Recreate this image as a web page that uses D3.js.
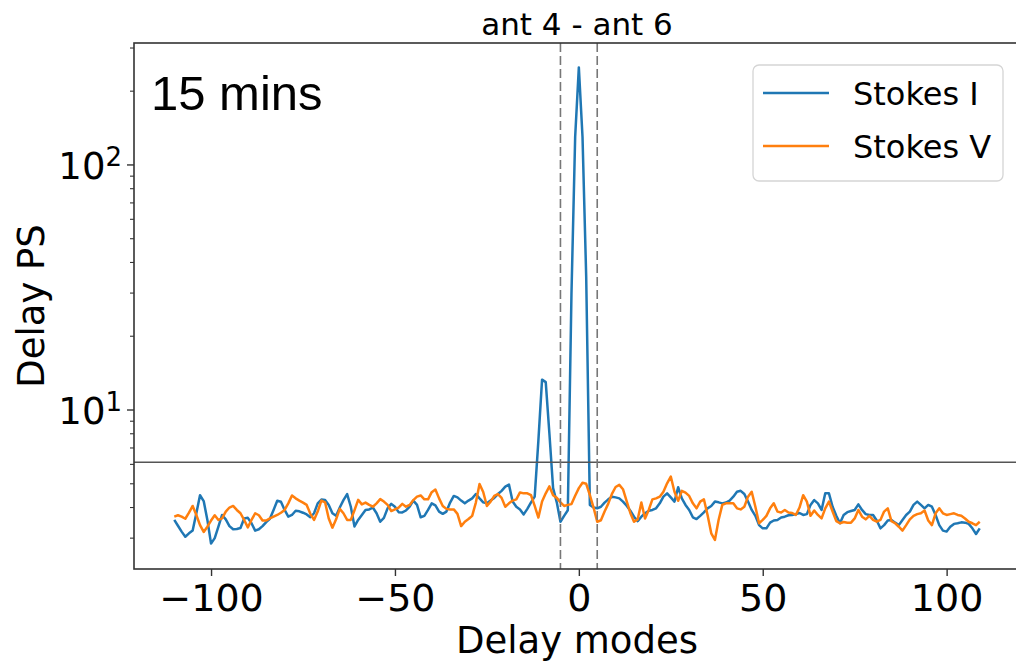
<!DOCTYPE html>
<html>
<head>
<meta charset="utf-8">
<script src="https://cdn.jsdelivr.net/npm/d3@7"></script>
<style>
	body { margin: 0; background: #fff; }
	text { font-family: "DejaVu Sans", sans-serif; fill: #000; }
</style>
</head>
<body>
<div id="chart"></div>
<script>
//Data: delay power spectrum for baseline ant 4 - ant 6
var delayModes = d3.range(-110, 110);

var stokesI = [
	3.56, 3.37, 3.19, 3.04, 3.14, 3.22, 3.79, 4.49, 4.25, 3.56,
	2.85, 3.00, 3.34, 3.73, 3.58, 3.36, 3.26, 3.27, 3.30, 3.61,
	3.63, 3.45, 3.22, 3.26, 3.36, 3.49, 3.60, 3.91, 4.26, 4.22,
	3.91, 3.67, 3.73, 3.88, 3.86, 3.81, 3.75, 3.65, 3.79, 4.16,
	4.31, 4.29, 4.10, 3.79, 3.70, 4.00, 4.29, 4.54, 4.03, 3.35,
	3.56, 3.73, 3.91, 3.93, 4.00, 3.79, 3.50, 3.63, 3.97, 4.14,
	4.03, 3.83, 3.82, 3.89, 4.03, 4.27, 4.10, 3.65, 3.70, 3.91,
	4.16, 4.08, 3.85, 3.77, 3.85, 4.19, 4.46, 4.40, 4.27, 4.16,
	4.27, 4.36, 4.54, 4.36, 4.20, 4.16, 4.27, 4.38, 4.54, 4.68,
	4.87, 4.96, 4.23, 4.03, 3.93, 3.75, 3.95, 4.20, 4.43, 7.5,
	13.3, 13.0, 8.0, 4.8, 4.2, 3.5, 3.7, 3.9, 30, 130,
	250, 130, 35, 4.1, 4.0, 3.97, 4.03, 4.19, 4.32, 4.43,
	4.40, 4.36, 4.23, 4.07, 3.88, 3.67, 3.52, 3.67, 3.79, 3.88,
	3.91, 3.97, 4.16, 4.43, 4.57, 4.40, 4.23, 4.84, 4.36, 4.10,
	3.91, 3.65, 3.59, 3.70, 3.82, 3.97, 4.06, 4.23, 4.20, 4.16,
	4.19, 4.27, 4.43, 4.64, 4.68, 4.54, 4.23, 3.91, 3.70, 3.39,
	3.29, 3.29, 3.47, 3.54, 3.56, 3.64, 3.67, 3.72, 3.73, 3.76,
	3.80, 3.73, 3.76, 4.10, 4.29, 4.16, 3.91, 4.57, 4.57, 4.03,
	3.70, 3.45, 3.73, 3.83, 3.87, 3.91, 4.12, 3.91, 3.76, 3.73,
	3.73, 3.54, 3.29, 3.39, 3.54, 3.56, 3.47, 3.39, 3.56, 3.73,
	3.85, 4.10, 4.23, 4.10, 3.97, 4.10, 4.03, 3.73, 3.39, 3.22,
	3.19, 3.34, 3.43, 3.45, 3.48, 3.47, 3.43, 3.29, 3.12, 3.29
];

var stokesV = [
	3.67, 3.72, 3.67, 3.60, 3.81, 4.06, 3.73, 3.39, 3.18, 3.34,
	3.54, 3.72, 3.56, 3.61, 3.85, 4.00, 4.06, 3.91, 3.79, 3.56,
	3.32, 3.56, 3.79, 3.72, 3.54, 3.54, 3.61, 3.67, 3.73, 3.81,
	3.91, 4.16, 4.48, 4.36, 4.27, 4.19, 4.10, 3.77, 3.56, 3.85,
	4.27, 4.20, 3.61, 3.31, 3.58, 3.95, 3.79, 3.56, 3.56, 3.90,
	4.30, 4.12, 4.19, 4.10, 4.03, 4.16, 4.33, 4.23, 4.10, 3.87,
	3.93, 4.00, 4.14, 4.03, 4.10, 4.29, 4.43, 4.48, 4.32, 4.32,
	4.62, 4.74, 4.36, 4.06, 3.95, 3.93, 3.93, 3.77, 3.36, 3.50,
	3.59, 3.70, 4.19, 4.99, 4.63, 4.06, 4.23, 4.46, 4.54, 4.38,
	4.03, 4.16, 4.27, 4.32, 4.61, 4.57, 4.57, 4.49, 4.06, 3.64,
	4.23, 4.57, 4.88, 4.49, 4.38, 4.20, 4.06, 4.10, 4.13, 4.47,
	4.80, 5.05, 5.00, 4.50, 4.00, 3.50, 3.55, 3.85, 4.15, 4.55,
	4.85, 4.95, 4.75, 4.25, 3.80, 3.50, 3.58, 4.19, 3.61, 3.91,
	4.32, 4.36, 4.43, 4.64, 5.02, 5.35, 4.64, 4.26, 4.68, 4.60,
	4.46, 4.16, 3.97, 4.23, 4.32, 3.73, 3.14, 2.95, 3.56, 4.10,
	4.16, 4.16, 4.16, 3.97, 3.93, 4.03, 4.43, 4.64, 4.03, 3.45,
	3.56, 3.70, 3.97, 4.16, 3.85, 3.82, 3.91, 3.82, 3.80, 3.73,
	4.00, 4.49, 4.23, 3.70, 3.89, 3.73, 3.61, 3.97, 4.23, 3.85,
	3.52, 3.45, 3.49, 3.47, 3.47, 3.61, 3.91, 3.67, 3.58, 3.70,
	3.56, 3.50, 3.56, 3.85, 3.97, 3.52, 3.45, 3.34, 3.22, 3.39,
	3.58, 3.70, 3.76, 3.79, 3.89, 3.54, 3.39, 3.79, 3.97, 3.79,
	3.73, 3.76, 3.79, 3.73, 3.70, 3.61, 3.50, 3.45, 3.39, 3.50
];

var seriesNames = ["Stokes I", "Stokes V"];
var seriesColors = ["#1f77b4", "#ff7f0e"];
var xTicks = [-100, -50, 0, 50, 100];
var yMajorTicks = [10, 100];
var yMinorTicks = [3, 4, 5, 6, 7, 8, 9, 20, 30, 40, 50, 60, 70, 80, 90, 200, 300];
var windowEdges = [-5, 5];
var threshold = 6.12;
var titleText = "ant 4 - ant 6";
var noteText = "15 mins";

//SVG setup
var margin = { top: 43, left: 134 };
var width = 886;
var height = 526;

var root = d3.select('#chart')
	.append('svg')
	.attr('width', 1016)
	.attr('height', 662);

var svg = root.append('g')
	.attr('transform', 'translate(' + margin.left + ',' + margin.top + ')');

//Scales (matplotlib style 5% margins)
var x = d3.scaleLinear()
	.domain([-120.95, 119.95])
	.range([0, width]);

var y = d3.scaleLog()
	.domain([2.245, 314.5])
	.range([height, 0]);

var series = [stokesI, stokesV].map(function(vals, i) {
	return {
		name: seriesNames[i],
		color: seriesColors[i],
		points: delayModes.map(function(d, j) { return { mode: d, value: vals[j] }; })
	};
});

//x axis
var xAxis = svg.append('g')
	.attr('transform', 'translate(0,' + height + ')')
	.call(d3.axisBottom(x)
		.tickValues(xTicks)
		.tickSize(7)
		.tickPadding(8)
		.tickFormat(function(d) { return d < 0 ? '\u2212' + Math.abs(d) : d; }));
xAxis.select('.domain').remove();
xAxis.selectAll('line').attr('stroke', '#333').attr('stroke-width', 1.4);
xAxis.selectAll('text')
	.attr('font-size', 38)
	.attr('fill', '#000');

//y axis minor ticks
svg.selectAll('.minor')
	.data(yMinorTicks)
	.enter()
	.append('line')
	.attr('class', 'minor')
	.attr('x1', -4)
	.attr('x2', 0)
	.attr('y1', function(d) { return y(d); })
	.attr('y2', function(d) { return y(d); })
	.attr('stroke', '#333')
	.attr('stroke-width', 1.1);

//y axis major ticks with 10^n labels
var major = svg.selectAll('.major')
	.data(yMajorTicks)
	.enter()
	.append('g')
	.attr('class', 'major')
	.attr('transform', function(d) { return 'translate(0,' + y(d) + ')'; });
major.append('line')
	.attr('x1', -7)
	.attr('x2', 0)
	.attr('stroke', '#333')
	.attr('stroke-width', 1.4);
var lbl = major.append('text')
	.attr('x', -12)
	.attr('y', 14)
	.attr('text-anchor', 'end')
	.attr('font-size', 37);
lbl.append('tspan').text('10');
lbl.append('tspan')
	.attr('font-size', 26)
	.attr('dy', -13)
	.text(function(d) { return Math.round(Math.log10(d)); });

//Series lines
var line = d3.line()
	.x(function(d) { return x(d.mode); })
	.y(function(d) { return y(d.value); });

svg.selectAll('.series')
	.data(series)
	.enter()
	.append('path')
	.attr('class', 'series')
	.attr('fill', 'none')
	.attr('stroke', function(d) { return d.color; })
	.attr('stroke-width', 2.5)
	.attr('stroke-linejoin', 'round')
	.attr('d', function(d) { return line(d.points); });

//Threshold and delay window
svg.append('line')
	.attr('x1', 0)
	.attr('x2', width)
	.attr('y1', y(threshold))
	.attr('y2', y(threshold))
	.attr('stroke', '#555')
	.attr('stroke-width', 1.6);

svg.selectAll('.edge')
	.data(windowEdges)
	.enter()
	.append('line')
	.attr('class', 'edge')
	.attr('x1', function(d) { return x(d); })
	.attr('x2', function(d) { return x(d); })
	.attr('y1', 0)
	.attr('y2', height)
	.attr('stroke', '#777')
	.attr('stroke-width', 1.6)
	.attr('stroke-dasharray', '9,4');

//Spines
svg.append('rect')
	.attr('width', width)
	.attr('height', height)
	.attr('fill', 'none')
	.attr('stroke', '#333')
	.attr('stroke-width', 1.6);

//Title, labels and note
svg.append('text')
	.attr('x', width / 2)
	.attr('y', -8)
	.attr('text-anchor', 'middle')
	.attr('font-size', 31)
	.text(titleText);

svg.append('text')
	.attr('x', 443)
	.attr('y', 610)
	.attr('text-anchor', 'middle')
	.attr('font-size', 37)
	.text('Delay modes');

svg.append('text')
	.attr('transform', 'translate(-90,' + height / 2 + ') rotate(-90)')
	.attr('text-anchor', 'middle')
	.attr('font-size', 37)
	.text('Delay PS');

//note uses a helvetica-like face, set via style so the css rule does not win
svg.append('text')
	.attr('x', 17)
	.attr('y', 67)
	.style('font-family', '"Liberation Sans", Arial, sans-serif')
	.attr('font-size', 49)
	.text(noteText);

//Legend
var legend = svg.append('g')
	.attr('transform', 'translate(619,22)');
legend.append('rect')
	.attr('width', 250)
	.attr('height', 116)
	.attr('rx', 6)
	.attr('fill', '#fff')
	.attr('fill-opacity', 0.8)
	.attr('stroke', '#d5d5d5')
	.attr('stroke-width', 1.3);
var entry = legend.selectAll('.entry')
	.data(series)
	.enter()
	.append('g')
	.attr('class', 'entry')
	.attr('transform', function(d, i) { return 'translate(0,' + (28 + i * 53) + ')'; });
entry.append('line')
	.attr('x1', 10)
	.attr('x2', 76)
	.attr('stroke', function(d) { return d.color; })
	.attr('stroke-width', 2.4);
entry.append('text')
	.attr('x', 100)
	.attr('y', 12)
	.attr('font-size', 32)
	.text(function(d) { return d.name; });
</script>
</body>
</html>
